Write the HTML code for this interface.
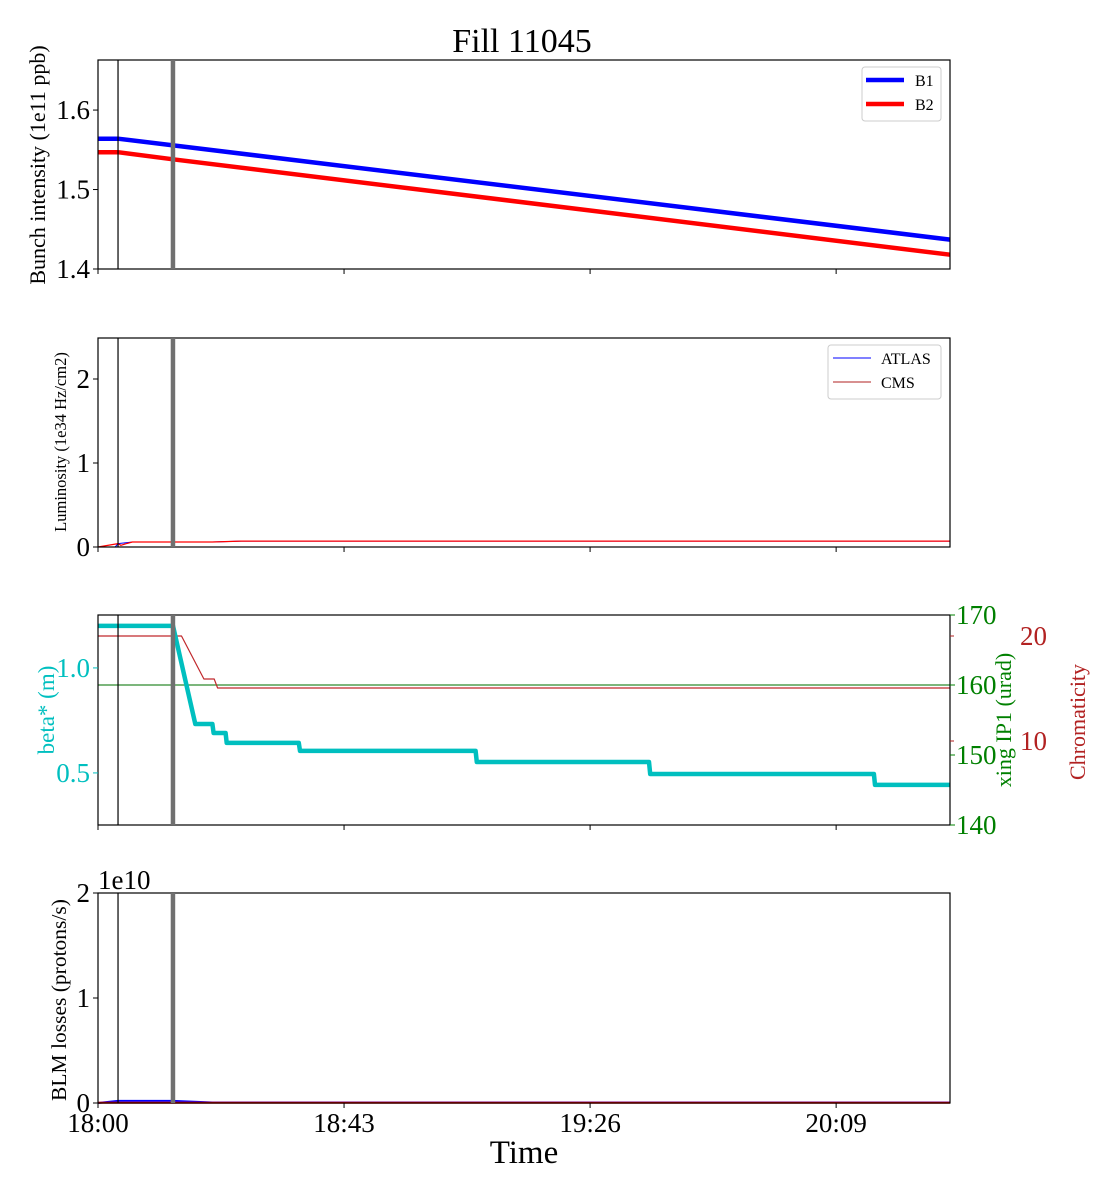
<!DOCTYPE html>
<html><head><meta charset="utf-8"><style>
body{margin:0;background:#fff}
svg{display:block;font-family:"Liberation Serif",serif}
</style></head><body>
<svg id="c" width="1120" height="1200" viewBox="0 0 1120 1200"></svg>
<script>
// ---- data ----
const xTickLabels=["18:00","18:43","19:26","20:09"];
const xTickMins=[0,43,86,129];
const tEnd=148.9;
const markerThin=3.5, markerThick=13.1;
const b1T=[0,3.5,148.9], b1V=[1.564,1.564,1.437];
const b2T=[0,3.5,13.1,148.9], b2V=[1.547,1.547,1.538,1.418];
const atlasT=[0,3,3.5,6,20,25,148.9], atlasV=[0,0,0.04,0.06,0.06,0.07,0.07];
const cmsT=[0,3.5,4,5,6,20,25,148.9], cmsV=[0,0.04,0.02,0.04,0.06,0.06,0.07,0.07];
const betaT=[0,13.1,17,20,20.2,22.3,22.5,35.1,35.3,66,66.2,96.3,96.5,135.6,135.8,148.9];
const betaV=[1.2,1.2,0.733,0.733,0.69,0.69,0.643,0.643,0.605,0.605,0.552,0.552,0.495,0.495,0.443,0.443];
const xingT=[0,148.9], xingV=[160,160];
const chromT=[0,13.1,13.1,13.2,14.6,18.5,20.3,20.9,148.9];
const chromV=[20,20,15.5,20,20,15.9,15.9,15.05,15.05];
const blmB1T=[0,3.5,13.1,20,148.9], blmB1V=[0,0.02,0.02,0.005,0.005];
const blmB2T=[0,148.9], blmB2V=[0.003,0.003];

const S=document.getElementById('c'),NS='http://www.w3.org/2000/svg';
function el(t,a,p){const e=document.createElementNS(NS,t);for(const k in a)e.setAttribute(k,a[k]);(p||S).appendChild(e);return e;}
const X0=98,X1=950;
const xs=m=>X0+(m/tEnd)*(X1-X0);
function ys(top,bot,lo,hi){return v=>bot-(v-lo)/(hi-lo)*(bot-top);}
function line(T,V,x,y,col,w,name){const d=T.map((t,i)=>(i?'L':'M')+x(t).toFixed(1)+','+y(V[i]).toFixed(1)).join('');
 const p=el('path',{d,fill:'none',stroke:col,'stroke-width':w,'stroke-linejoin':'round'});
 
 }
function txt(x,y,s,size,anchor,col,rot,name){const t=el('text',{x,y,'font-size':size,'text-anchor':anchor||'middle',fill:col||'#000'});
 if(rot)t.setAttribute('transform','rotate(-90 '+x+' '+y+')');t.textContent=s;
 
 return t;}
function frame(top,bot,name,showLabels){
 const r=el('rect',{x:X0,y:top,width:X1-X0,height:bot-top,fill:'none',stroke:'#000','stroke-width':1.2});
 
 
 xTickMins.forEach((m,i)=>{el('line',{x1:xs(m),x2:xs(m),y1:bot,y2:bot+5,stroke:'#000'});
  if(showLabels)txt(xs(m),bot+29,xTickLabels[i],27,'middle','#000',0,'x-tick-label');});
 el('line',{x1:xs(markerThin),x2:xs(markerThin),y1:top,y2:bot,stroke:'#000','stroke-width':1.2});
 el('line',{x1:xs(markerThick),x2:xs(markerThick),y1:top,y2:bot,stroke:'#707070','stroke-width':4.5});
}
function yticks(vals,labels,y,side,col,size){vals.forEach((v,i)=>{const yy=y(v);
 if(side==='l'){el('line',{x1:X0-5,x2:X0,y1:yy,y2:yy,stroke:col});txt(X0-8,yy+9,labels[i],size||27,'end',col,0,'y-tick-label');}
 else{el('line',{x1:X1,x2:X1+5,y1:yy,y2:yy,stroke:col});txt(X1+8,yy+9,labels[i],size||27,'start',col,0,'y-tick-label');}});}

txt(522,52,'Fill 11045',34,'middle','#000',0,'chart-title');

// Panel 1
let y1=ys(60,269,1.4,1.663);
line(b1T,b1V,xs,y1,'#0000ff',4.5,'b1-intensity-line');
line(b2T,b2V,xs,y1,'#ff0000',4.5,'b2-intensity-line');
frame(60,269,'intensity-panel',false);
yticks([1.4,1.5,1.6],['1.4','1.5','1.6'],y1,'l','#000');
txt(45,165,'Bunch intensity (1e11 ppb)',22,'middle','#000',1,'intensity-y-title');
let g=el('g',{});
el('rect',{x:862,y:67,width:79,height:54,rx:3,fill:'#fff',stroke:'#ccc'},g);
el('line',{x1:866,x2:904,y1:80,y2:80,stroke:'#0000ff','stroke-width':4.5},g);
el('line',{x1:866,x2:904,y1:104,y2:104,stroke:'#ff0000','stroke-width':4.5},g);
txt(915,86,'B1',16,'start','#000',0,'legend-b1');txt(915,110,'B2',16,'start','#000',0,'legend-b2');

// Panel 2
let yl=ys(338,547,0,2.488);
line(atlasT,atlasV,xs,yl,'#0000ff',1,'atlas-lumi-line');
line(cmsT,cmsV,xs,yl,'#ff0000',1.2,'cms-lumi-line');
frame(338,547,'lumi-panel',false);
yticks([0,1,2],['0','1','2'],yl,'l','#000');
txt(66,442,'Luminosity (1e34 Hz/cm2)',16.5,'middle','#000',1,'lumi-y-title');
g=el('g',{});
el('rect',{x:828,y:345,width:113,height:54,rx:3,fill:'#fff',stroke:'#ccc'},g);
el('line',{x1:833,x2:871,y1:358,y2:358,stroke:'#0000ff','stroke-width':1},g);
el('line',{x1:833,x2:871,y1:382,y2:382,stroke:'#b22222','stroke-width':1},g);
txt(881,364,'ATLAS',16,'start','#000',0,'legend-atlas');txt(881,388,'CMS',16,'start','#000',0,'legend-cms');

// Panel 3
let yb=ys(615,825,0.252,1.252), yx=ys(615,825,140,170), yc=ys(615,825,2,22);
line(xingT,xingV,xs,yx,'#2e8b2e',1.2,'xing-line');
line(chromT,chromV,xs,yc,'#c0282c',1.2,'chromaticity-line');
line(betaT,betaV,xs,yb,'#00bfbf',4.5,'beta-star-line');
frame(615,825,'optics-panel',false);
yticks([0.5,1.0],['0.5','1.0'],yb,'l','#00bfbf');
[140,150,160,170].forEach(v=>{el('line',{x1:X1,x2:X1+5,y1:yx(v),y2:yx(v),stroke:'#008000'});txt(X1+6,yx(v)+9,String(v),27,'start','#008000',0,'xing-tick-label');});
[10,20].forEach(v=>{el('line',{x1:X1,x2:X1+4,y1:yc(v),y2:yc(v),stroke:'#b22222'});txt(1020,yc(v)+9,String(v),27,'start','#b22222',0,'chroma-tick-label');});
txt(54,710,'beta* (m)',23,'middle','#00bfbf',1,'beta-y-title');
txt(1011,720,'xing IP1 (urad)',22,'middle','#008000',1,'xing-y-title');
txt(1085,722,'Chromaticity',22,'middle','#b22222',1,'chroma-y-title');

// Panel 4
let yB=ys(893,1103,0,2);
line(blmB1T,blmB1V,xs,yB,'#0000ff',2,'blm-b1-line');
line(blmB2T,blmB2V,xs,yB,'#ff0000',2,'blm-b2-line');
frame(893,1103,'blm-panel',true);
yticks([0,1,2],['0','1','2'],yB,'l','#000');
txt(98,889,'1e10',27,'start','#000',0,'blm-offset-text');
txt(66,1000,'BLM losses (protons/s)',21.5,'middle','#000',1,'blm-y-title');
txt(524,1163,'Time',33,'middle','#000',0,'x-axis-title');
</script>
</body></html>
